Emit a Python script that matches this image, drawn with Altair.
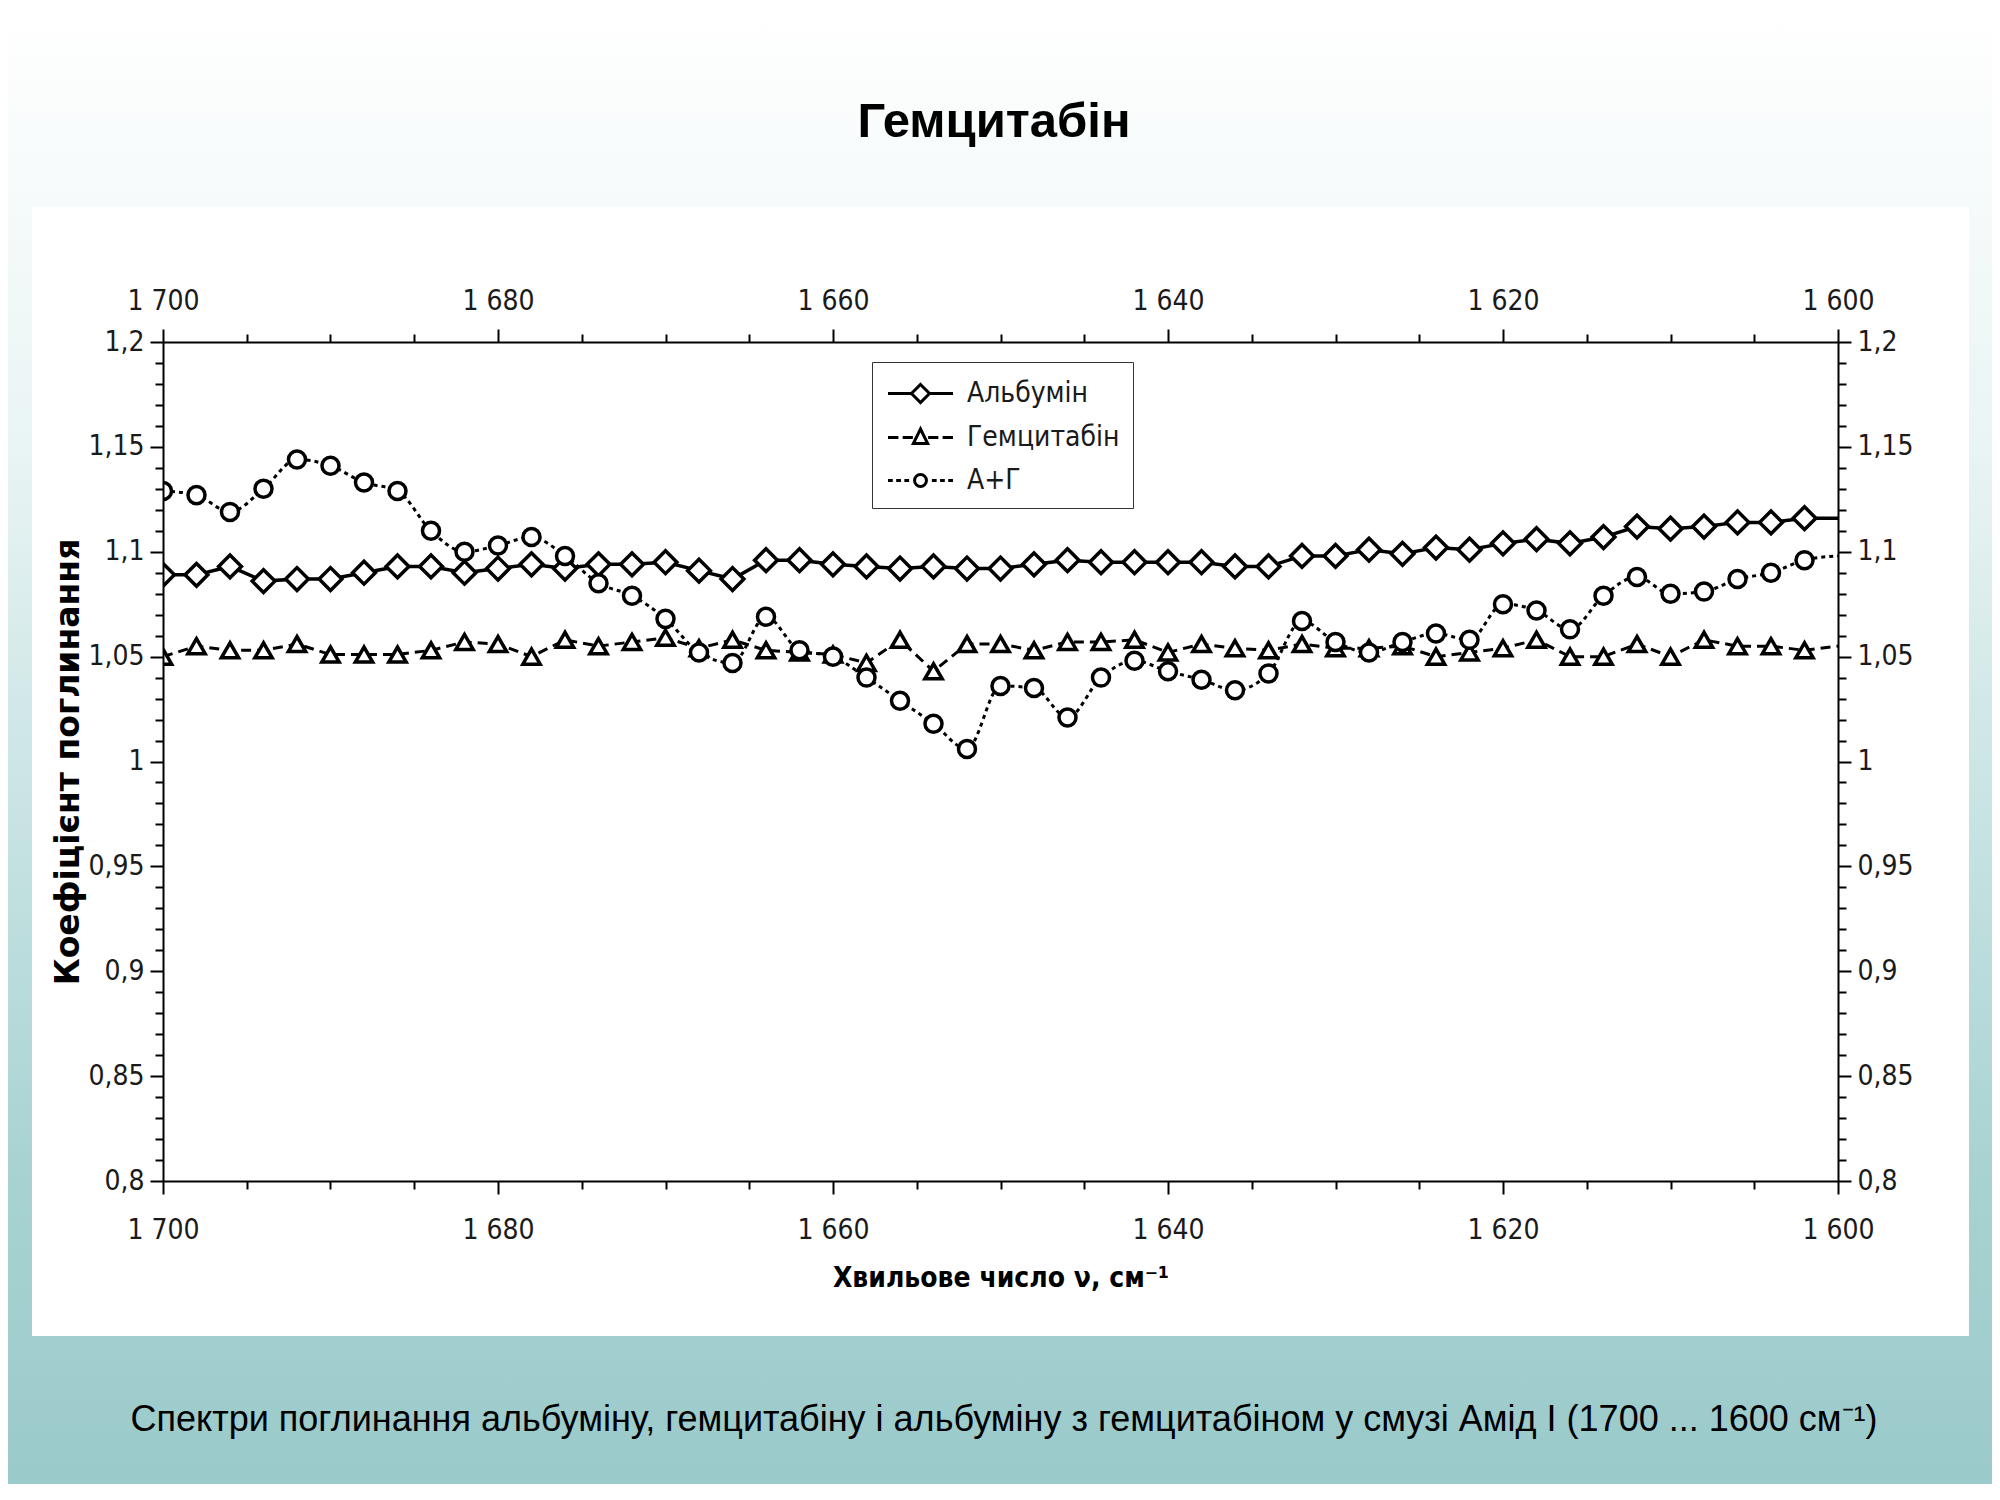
import altair as alt
import pandas as pd

# wavenumber grid, cm-1 (every 2 cm-1)
wavenumber = [1700, 1698, 1696, 1694, 1692, 1690, 1688, 1686, 1684, 1682,
              1680, 1678, 1676, 1674, 1672, 1670, 1668, 1666, 1664, 1662,
              1660, 1658, 1656, 1654, 1652, 1650, 1648, 1646, 1644, 1642,
              1640, 1638, 1636, 1634, 1632, 1630, 1628, 1626, 1624, 1622,
              1620, 1618, 1616, 1614, 1612, 1610, 1608, 1606, 1604, 1602,
              1600]

albumin = [1.089, 1.089, 1.093, 1.086, 1.087, 1.087, 1.090, 1.093, 1.093, 1.090,
           1.092, 1.094, 1.092, 1.094, 1.094, 1.095, 1.091, 1.087, 1.096, 1.096,
           1.094, 1.093, 1.092, 1.093, 1.092, 1.092, 1.094, 1.096, 1.095, 1.095,
           1.095, 1.095, 1.093, 1.093, 1.098, 1.098, 1.101, 1.099, 1.102, 1.101,
           1.104, 1.106, 1.104, 1.107, 1.112, 1.111, 1.112, 1.114, 1.114, 1.116,
           1.116]

gemcitabine = [1.050, 1.055, 1.053, 1.053, 1.056, 1.051, 1.051, 1.051, 1.053, 1.057,
               1.056, 1.050, 1.058, 1.055, 1.057, 1.059, 1.054, 1.058, 1.053, 1.052,
               1.051, 1.047, 1.058, 1.043, 1.056, 1.056, 1.053, 1.057, 1.057, 1.058,
               1.052, 1.056, 1.054, 1.053, 1.056, 1.054, 1.054, 1.055, 1.050, 1.052,
               1.054, 1.058, 1.050, 1.050, 1.056, 1.050, 1.058, 1.055, 1.055, 1.053,
               1.055]

albumin_gem = [1.129, 1.127, 1.119, 1.130, 1.144, 1.141, 1.133, 1.129, 1.110, 1.100,
               1.103, 1.107, 1.098, 1.085, 1.079, 1.068, 1.052, 1.047, 1.069, 1.053,
               1.050, 1.040, 1.029, 1.018, 1.006, 1.036, 1.035, 1.021, 1.040, 1.048,
               1.043, 1.039, 1.034, 1.042, 1.067, 1.057, 1.052, 1.057, 1.061, 1.058,
               1.075, 1.072, 1.063, 1.079, 1.088, 1.080, 1.081, 1.087, 1.090, 1.096,
               1.098]

series_names = ["Альбумін", "Гемцитабін", "А+Г"]

slide_title = "Гемцитабін"
caption = ("Спектри поглинання альбуміну, гемцитабіну і альбуміну з гемцитабіном "
           "у смузі Амід I (1700 ... 1600 см⁻¹)")
x_title = "Хвильове число ν, см⁻¹"
y_title = "Коефіцієнт поглинання"

x_ticks = list(range(1600, 1701, 5))
y_ticks = [round(0.8 + 0.01 * i, 2) for i in range(41)]

W, H = 1675, 839
FONT = "DejaVu Sans Condensed, DejaVu Sans"

long_df = pd.DataFrame({
    "wn": wavenumber * 3,
    "value": albumin + gemcitabine + albumin_gem,
    "series": [series_names[0]] * 51 + [series_names[1]] * 51 + [series_names[2]] * 51,
})
one_row = pd.DataFrame({"text": [slide_title], "caption": [caption]})

xs = alt.Scale(domain=[1700, 1600], nice=False, zero=False)
ys = alt.Scale(domain=[0.8, 1.2], nice=False, zero=False)

x_major = "datum.value % 20 == 0"
y_major = "round(datum.value * 100) % 5 == 0"


def make_axis(orient, major, label_expr, values, title=None, **kw):
    return alt.Axis(
        orient=orient, values=values, title=title, grid=False, zindex=2,
        labelExpr=label_expr, labelOverlap=False, labelFlush=False, labelBound=False,
        labelFont=FONT, labelFontSize=28, labelColor="#1a1a1a",
        domainColor="black", domainWidth=2, tickColor="black", tickWidth=2,
        tickSize={"condition": {"test": major, "value": 13}, "value": 8},
        titleFontWeight="bold", titleColor="black",
        **kw,
    )


x_lab = f"{x_major} ? replace(format(datum.value, ','), ',', ' ') : ''"
y_lab = f"{y_major} ? replace(format(datum.value, '.2~f'), '.', ',') : ''"

ax_bottom = make_axis("bottom", x_major, x_lab, x_ticks, title=x_title,
                      labelPadding=22, titlePadding=20, titleFont=FONT, titleFontSize=28)
ax_top = make_axis("top", x_major, x_lab, x_ticks, labelPadding=14)
ax_left = make_axis("left", y_major, y_lab, y_ticks, title=y_title,
                    labelPadding=6, titlePadding=2, titleFont="DejaVu Sans", titleFontSize=33)
ax_right = make_axis("right", y_major, y_lab, y_ticks, labelPadding=6)

# slide background and white picture panel
bg = alt.Chart(one_row).mark_rect(
    fill=alt.LinearGradient(
        gradient="linear", x1=0, x2=0, y1=0, y2=1,
        stops=[alt.GradientStop(color="#ffffff", offset=0),
               alt.GradientStop(color="#e9f4f4", offset=0.3),
               alt.GradientStop(color="#a9d3d3", offset=0.78),
               alt.GradientStop(color="#9bcaca", offset=1)]),
).encode(x=alt.value(-155), x2=alt.value(W + 154), y=alt.value(-334), y2=alt.value(1142))

panel = alt.Chart(one_row).mark_rect(fill="white").encode(
    x=alt.value(-131), x2=alt.value(1806), y=alt.value(-135), y2=alt.value(994))

title = alt.Chart(one_row).mark_text(
    font="Liberation Sans", fontSize=49, fontWeight="bold", color="black",
    align="center", baseline="alphabetic",
).encode(text="text:N", x=alt.value(831), y=alt.value(-205))

cap = alt.Chart(one_row).mark_text(
    font="Liberation Sans", fontSize=36, color="black",
    align="center", baseline="alphabetic",
).encode(text="caption:N", x=alt.value(841), y=alt.value(1089))


def line_layer(name, xaxis=None, yaxis=None, **style):
    return alt.Chart(long_df).transform_filter(alt.datum.series == name).mark_line(
        color="black", clip=True, **style
    ).encode(
        x=alt.X("wn:Q", scale=xs, axis=xaxis),
        y=alt.Y("value:Q", scale=ys, axis=yaxis),
    )


def point_layer(name, shape, size):
    return alt.Chart(long_df).transform_filter(
        (alt.datum.series == name) & (alt.datum.wn > 1600)
    ).mark_point(
        shape=shape, size=size, filled=True, fill="white", stroke="black",
        strokeWidth=3.5, opacity=1, clip=True,
    ).encode(
        x=alt.X("wn:Q", scale=xs, axis=None),
        y=alt.Y("value:Q", scale=ys, axis=None),
    )


l_alb = line_layer(series_names[0], ax_bottom, ax_left, strokeWidth=3.5)
l_gem = line_layer(series_names[1], ax_top, ax_right, strokeWidth=3, strokeDash=[10, 6])
l_ag = line_layer(series_names[2], strokeWidth=3, strokeDash=[4, 4], interpolate="monotone")

p_alb = point_layer(series_names[0], "diamond", 520)
p_gem = point_layer(series_names[1], "triangle-up", 300)
p_ag = point_layer(series_names[2], "circle", 290)

# legend symbols: line with marker in the middle (unit = 17 px, marker at x=1)
legend_paths = [
    "M-0.91,0H0.47M1.53,0H2.91M1,-0.53L1.53,0L1,0.53L0.47,0Z",
    "M-0.91,0H-0.3M-0.05,0H0.55M1.45,0H2.05M2.3,0H2.91M1,-0.5L1.42,0.36L0.58,0.36Z",
    "M-0.91,0H-0.63M-0.43,0H-0.15M0.05,0H0.33M1.67,0H1.95M2.15,0H2.43M2.63,0H2.91"
    "M1.35,0A0.35,0.35,0,1,1,0.65,0A0.35,0.35,0,1,1,1.35,0Z",
]

legend_layer = alt.Chart(long_df).transform_filter("false").mark_point(
    filled=False, color="black", strokeWidth=3, opacity=1,
).encode(
    x=alt.X("wn:Q", scale=xs, axis=None),
    y=alt.Y("value:Q", scale=ys, axis=None),
    shape=alt.Shape(
        "series:N",
        scale=alt.Scale(domain=series_names, range=legend_paths),
        legend=alt.Legend(
            title=None, orient="none", legendX=709, legendY=20,
            fillColor="white", strokeColor="#333333", padding=13,
            symbolSize=1156, symbolStrokeWidth=3, symbolStrokeColor="black",
            symbolOpacity=1,
            labelFont=FONT, labelFontSize=28, labelColor="#1a1a1a",
            labelOffset=45, rowPadding=10,
        ),
    ),
)

chart = alt.layer(
    bg, panel, title, cap,
    l_alb, l_gem, l_ag, p_alb, p_gem, p_ag, legend_layer,
).resolve_axis(
    x="independent", y="independent"
).properties(
    width=W, height=H,
    autosize=alt.AutoSizeParams(type="none"),
    padding={"left": 155, "top": 334, "right": 154, "bottom": 303},
).configure_view(strokeWidth=0)

chart.save("out.html", embed_options={"renderer": "svg", "actions": False})
